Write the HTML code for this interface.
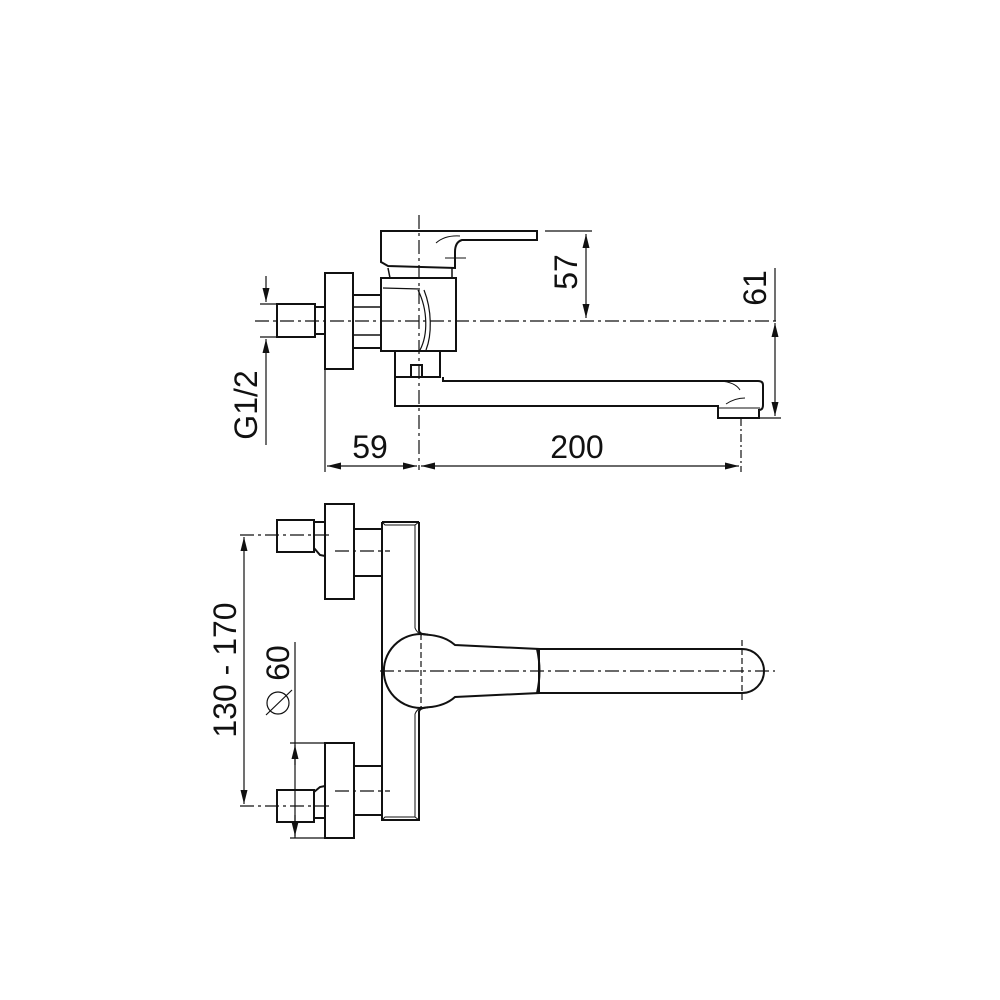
<!DOCTYPE html>
<html><head><style>html,body{margin:0;padding:0;background:#fff}svg{display:block}text{font-family:"Liberation Sans",Arial,sans-serif;fill:#111}</style></head>
<body>
<svg width="1000" height="1000" viewBox="0 0 1000 1000" xmlns="http://www.w3.org/2000/svg">
<defs>
<marker id="a" viewBox="0 0 10 10" refX="10" refY="5" markerWidth="14" markerHeight="14" markerUnits="userSpaceOnUse" orient="auto-start-reverse"><path d="M0,2.5 L10,5 L0,7.5z" fill="#111"/></marker>
</defs>
<g fill="none" stroke="#111" stroke-width="2">
<!-- TOP VIEW -->
<rect x="325" y="273" width="28" height="96"/>
<rect x="277" y="304" width="38" height="33"/>
<path d="M315,307 H325 M315,334 H325"/>
<rect x="353" y="295" width="28" height="53"/>
<path d="M353,307 H381 M353,335 H381" stroke-width="1.5"/>
<rect x="381" y="278" width="75" height="73"/>
<path d="M383,288 L420,289 M418,290 C428,310 428,335 420,350 M424,290 C432,310 432,335 426,350" stroke-width="1.2"/>
<path d="M381,231 H537 V240 H462 Q455,242 455,252 V268 L388,266 L381,262 Z"/>
<path d="M388,268 L390,278 M452,268 V278" stroke-width="1.5"/>
<path d="M436,243 Q445,235 460,236" stroke-width="1"/>
<path d="M445,258 H466" stroke-width="1"/>
<rect x="395" y="351" width="45" height="26"/>
<rect x="411" y="365" width="11" height="12"/>
<path d="M395,377 V406 H718 V418 H759 V410 Q763,410 763,405 V385 Q763,381 758,381 H443 V377"/>
<path d="M720,381 Q735,382 740,390 M726,404 Q735,398 745,398" stroke-width="1"/>
<path d="M719,408 H760" stroke-width="1"/>
<!-- dims top -->
<g stroke-width="1.2">
<path d="M255,321 H780" stroke-dasharray="14,4,3,4"/>
<path d="M419,215 V470" stroke-dasharray="14,4,3,4"/>
<path d="M545,231 H592"/>
<path d="M586,234 V318" marker-start="url(#a)" marker-end="url(#a)"/>
<path d="M775,268 V321"/>
<path d="M775,323 V416" marker-start="url(#a)" marker-end="url(#a)"/>
<path d="M760,418 H781"/>
<path d="M266,276 V302" marker-end="url(#a)"/>
<path d="M266,445 V339" marker-end="url(#a)"/>
<path d="M260,304 H277 M260,337 H277"/>
<path d="M325,369 V472"/>
<path d="M741,418 V472" stroke-dasharray="8,3,2,3"/>
<path d="M327,466 H417" marker-start="url(#a)" marker-end="url(#a)"/>
<path d="M421,466 H739" marker-start="url(#a)" marker-end="url(#a)"/>
</g>
<!-- BOTTOM VIEW -->
<rect x="325" y="504" width="29" height="95"/>
<rect x="277" y="520" width="37" height="32"/>
<path d="M314,522 H325 M314,548 L320,555 L325,556"/>
<rect x="354" y="529" width="28" height="47"/>
<rect x="325" y="743" width="29" height="95"/>
<rect x="277" y="790" width="37" height="32"/>
<path d="M314,792 L320,787 L325,786 M314,818 H325"/>
<rect x="354" y="766" width="28" height="49"/>
<path d="M382,522 V820 H419 V712 Q419,708 428,707.3 M419,522 H382 M419,522 V630 Q419,634.7 428,634.7"/>
<path d="M428,634.7 A37,37 0 1 0 428,707.3"/>
<path d="M415,525 V628 Q417,633 422,635 M415,817 V714 Q417,709 422,707" stroke-width="1"/>
<path d="M382,522 L385,525 H415 L419,522 M382,820 L385,817 H415 L419,820" stroke-width="1"/>
<path d="M428,634.7 Q445,636 455,645 L539,649 V693 L455,697 Q445,706 428,707.3"/>
<path d="M539,649 H742 A22,22 0 0 1 742,693 H539"/>
<path d="M537,649 Q542,671 537,693"/>
<g stroke-width="1.2">
<path d="M380,671 H775" stroke-dasharray="14,4,3,4"/>
<path d="M421,634 V708" stroke-dasharray="6,3"/>
<path d="M742,640 V702" stroke-dasharray="6,3"/>
<path d="M240,535 H332 M335,551 H390 M240,806 H332 M335,791 H390" stroke-dasharray="14,4,3,4"/>
<path d="M244,537 V804" marker-start="url(#a)" marker-end="url(#a)"/>
<path d="M295,642 V838"/>
<path d="M295,765 V745" marker-end="url(#a)"/>
<path d="M295,815 V836" marker-end="url(#a)"/>
<path d="M290,743 H325 M290,838 H325"/>
<circle cx="278" cy="703" r="11"/>
<path d="M266,715 L292,690"/>
</g>
</g>
<text x="370" y="458" font-size="32" text-anchor="middle">59</text>
<text x="577" y="458" font-size="32" text-anchor="middle">200</text>
<text transform="translate(577,272) rotate(-90)" font-size="32" text-anchor="middle">57</text>
<text transform="translate(766,288) rotate(-90)" font-size="32" text-anchor="middle">61</text>
<text transform="translate(257,405) rotate(-90)" font-size="32" text-anchor="middle">G1/2</text>
<text transform="translate(236,670) rotate(-90)" font-size="32" text-anchor="middle">130 - 170</text>
<text transform="translate(289,663) rotate(-90)" font-size="32" text-anchor="middle">60</text>
</svg>
</body></html>
